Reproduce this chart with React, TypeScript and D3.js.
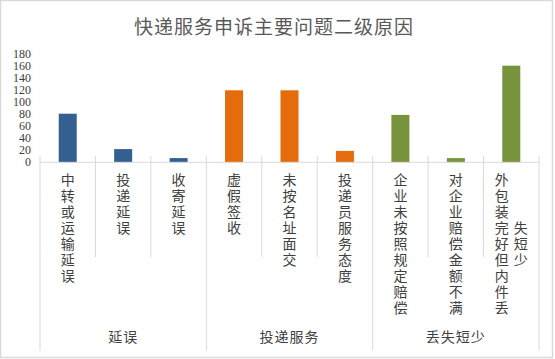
import React from "react";
import * as d3 from "d3";

const title = "快递服务申诉主要问题二级原因";
const categories = [
  "中转或运输延误",
  "投递延误",
  "收寄延误",
  "虚假签收",
  "未按名址面交",
  "投递员服务态度",
  "企业未按照规定赔偿",
  "对企业赔偿金额不满",
  "外包装完好但内件丢失短少",
];
const groups = ["延误", "投递服务", "丢失短少"];
const groupOf = [0, 0, 0, 1, 1, 1, 2, 2, 2];
const values = [81, 22, 7, 120, 120, 19, 79, 7, 161];
const yTicks = [0, 20, 40, 60, 80, 100, 120, 140, 160, 180];
const groupColors = ["#335F91", "#E46C0A", "#77933C"];

const W = 555;
const H = 359;
const MAX_CHARS = 9;

export default function App() {
  const x = d3.scaleBand<string>().domain(categories).range([40, 539]).padding(0);
  const y = d3.scaleLinear().domain([0, 180]).range([162.3, 54.3]);
  const bw = x.bandwidth();
  const barW = 18;
  const axisY = y(0);
  const textColor = "#404040";
  const lineColor = "#D9D9D9";
  const labelTop = 173;
  const pitch = 16;
  const fs = 14;

  const boundaries = d3.range(categories.length + 1).map((i) => 40 + i * bw);

  return (
    <div style={{ position: "absolute", left: 0, top: 0 }}>
      <svg width={W} height={H} style={{ display: "block", background: "#fff" }}>
        <rect x={0.5} y={0.5} width={W - 3} height={H - 2} fill="#fff" stroke={lineColor} strokeWidth={1.5} />
        <text x={274} y={34} textAnchor="middle" fontSize={19} fill="#595959"
          fontFamily="'Noto Sans CJK SC', serif" letterSpacing={1}>
          {title}
        </text>
        {yTicks.map((t) => (
          <text key={t} x={31} y={y(t) + 4} textAnchor="end" fontSize={12}
            fontFamily="'Liberation Serif', serif" fill={textColor}>
            {t}
          </text>
        ))}
        {categories.map((c, i) => (
          <rect key={c} x={(x(c) as number) + bw / 2 - barW / 2} y={y(values[i])}
            width={barW} height={axisY - y(values[i])} fill={groupColors[groupOf[i]]} />
        ))}
        <line x1={40} x2={539} y1={axisY} y2={axisY} stroke={lineColor} strokeWidth={1} />
        {boundaries.map((bx, i) => {
          const isGroup = i % 3 === 0;
          return (
            <line key={i} x1={bx} x2={bx} y1={156} y2={isGroup ? 350.5 : 257}
              stroke={lineColor} strokeWidth={1} />
          );
        })}
        {categories.map((c, i) => {
          const cx = (x(c) as number) + bw / 2;
          const chars = Array.from(c);
          const cols: string[][] = [];
          for (let k = 0; k < chars.length; k += MAX_CHARS) cols.push(chars.slice(k, k + MAX_CHARS));
          const colGap = 19;
          const blockH = cols[0].length * pitch;
          return (
            <g key={c}>
              {cols.map((col, ci) => {
                const colX = cx + (ci - (cols.length - 1) / 2) * colGap;
                const off = (blockH - col.length * pitch) / 2;
                return (
                  <text key={ci} x={colX} y={labelTop + off}
                    fontSize={fs} fill={textColor} letterSpacing={pitch - fs}
                    fontFamily="'Noto Sans CJK SC', serif"
                    style={{ writingMode: "vertical-rl", textOrientation: "upright" }}>
                    {col.join("")}
                  </text>
                );
              })}
            </g>
          );
        })}
        {groups.map((g, gi) => {
          const gx = 40 + (gi * 3 + 1.5) * bw;
          return (
            <text key={g} x={gx} y={342} textAnchor="middle" fontSize={14} fill={textColor}
              fontFamily="'Noto Sans CJK SC', serif" letterSpacing={1}>
              {g}
            </text>
          );
        })}
      </svg>
    </div>
  );
}
